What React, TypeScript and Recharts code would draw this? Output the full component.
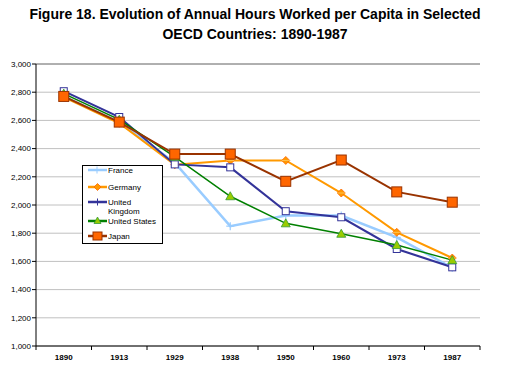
import React from "react";
import { LineChart, Line, XAxis, YAxis, CartesianGrid, ReferenceLine } from "recharts";

const years = ["1890", "1913", "1929", "1938", "1950", "1960", "1973", "1987"];
const france = [2770, 2588, 2300, 1850, 1925, 1925, 1770, 1555];
const germany = [2765, 2580, 2285, 2316, 2316, 2085, 1806, 1624];
const uk = [2807, 2624, 2288, 2267, 1956, 1913, 1688, 1558];
const us = [2790, 2605, 2342, 2062, 1870, 1796, 1716, 1609];
const japan = [2770, 2588, 2361, 2361, 2168, 2319, 2093, 2020];
const yTicks = [1000, 1200, 1400, 1600, 1800, 2000, 2200, 2400, 2600, 2800, 3000];

const data = years.map((year, i) => ({
  year,
  France: france[i],
  Germany: germany[i],
  UK: uk[i],
  US: us[i],
  Japan: japan[i],
}));

const FONT = "'Liberation Sans', Arial, sans-serif";

const PlusDot = (p: any) => {
  const { cx, cy, key } = p;
  if (cx == null || cy == null) return <g key={key} />;
  return (
    <g key={key} stroke="#99ccff" strokeWidth={1.2}>
      <line x1={cx - 4} y1={cy} x2={cx + 4} y2={cy} />
      <line x1={cx} y1={cy - 4} x2={cx} y2={cy + 4} />
    </g>
  );
};

const DiamondDot = (p: any) => {
  const { cx, cy, key } = p;
  if (cx == null || cy == null) return <g key={key} />;
  return (
    <g key={key}>
      <polygon
        points={`${cx},${cy - 4} ${cx + 4},${cy} ${cx},${cy + 4} ${cx - 4},${cy}`}
        fill="#ff9900"
        stroke="#ff6600"
        strokeWidth={0.8}
      />
      <line x1={cx - 4} y1={cy} x2={cx + 4} y2={cy} stroke="#ffcc66" strokeWidth={0.8} />
    </g>
  );
};

const HollowSquare = (p: any) => {
  const { cx, cy, key } = p;
  if (cx == null || cy == null) return <g key={key} />;
  return (
    <rect key={key} x={cx - 3.5} y={cy - 3.5} width={7} height={7} fill="#ffffff" stroke="#333399" strokeWidth={1} />
  );
};

const TriangleDot = (p: any) => {
  const { cx, cy, key } = p;
  if (cx == null || cy == null) return <g key={key} />;
  return (
    <polygon
      key={key}
      points={`${cx},${cy - 4.5} ${cx + 4.5},${cy + 3.5} ${cx - 4.5},${cy + 3.5}`}
      fill="#99cc00"
      stroke="#339933"
      strokeWidth={0.8}
    />
  );
};

const SquareDot = (p: any) => {
  const { cx, cy, key } = p;
  if (cx == null || cy == null) return <g key={key} />;
  return (
    <rect key={key} x={cx - 5} y={cy - 5} width={10} height={10} fill="#ff6600" stroke="#993300" strokeWidth={1} />
  );
};

const XTick = (p: any) => {
  const { x, y, payload, index } = p;
  const half = payload && payload.offset ? payload.offset : 27.75;
  return (
    <g>
      <line x1={x - half} y1={y} x2={x - half} y2={y + 4} stroke="#000" />
      {index === years.length - 1 && <line x1={x + half} y1={y} x2={x + half} y2={y + 4} stroke="#000" />}
      <text x={x} y={y + 14} textAnchor="middle" fontSize={8} fontWeight="bold" fontFamily={FONT} fill="#000">
        {payload.value}
      </text>
    </g>
  );
};

const LegendBox = () => (
  <svg width={82} height={80} style={{ display: "block" }}>
    <rect x={0.5} y={0.5} width={80} height={78} fill="#fff" stroke="#000" />
    <g fontFamily={FONT} fontSize={8} fill="#000">
      <line x1={6} y1={5} x2={25} y2={5} stroke="#99ccff" strokeWidth={2.5} />
      <line x1={15} y1={1.5} x2={15} y2={8.5} stroke="#99ccff" />
      <text x={26} y={8}>France</text>

      <line x1={6} y1={22} x2={25} y2={22} stroke="#ff9900" strokeWidth={2.5} />
      <polygon points="15.5,18.5 19,22 15.5,25.5 12,22" fill="#ff9900" stroke="#ff6600" strokeWidth={0.8} />
      <text x={26} y={25}>Germany</text>

      <line x1={6} y1={37} x2={25} y2={37} stroke="#333399" strokeWidth={2.5} />
      <line x1={15.5} y1={33.5} x2={15.5} y2={40.5} stroke="#333399" />
      <text x={26} y={40}>United</text>
      <text x={26} y={49}>Kingdom</text>

      <line x1={6} y1={56} x2={25} y2={56} stroke="#008000" strokeWidth={2.5} />
      <polygon points="15.5,52 19,58.5 12,58.5" fill="#99cc00" stroke="#339933" strokeWidth={0.8} />
      <text x={26} y={58.5}>United States</text>

      <line x1={6} y1={71} x2={25} y2={71} stroke="#993300" strokeWidth={2.5} />
      <rect x={11} y={67} width={9} height={8} fill="#ff6600" stroke="#993300" />
      <text x={26} y={74}>Japan</text>
    </g>
  </svg>
);

export default function App() {
  return (
    <div style={{ position: "absolute", left: 0, top: 0, width: 510, height: 374, background: "#fff" }}>
      <div
        style={{
          position: "absolute",
          left: 0,
          top: 4,
          width: 510,
          textAlign: "center",
          fontFamily: FONT,
          fontWeight: "bold",
          fontSize: 14,
          lineHeight: "20px",
          color: "#000",
        }}
      >
        Figure 18. Evolution of Annual Hours Worked per Capita in Selected
        <br />
        OECD Countries: 1890-1987
      </div>
      <div style={{ position: "absolute", left: 0, top: 0 }}>
        <LineChart width={510} height={374} data={data} margin={{ top: 64, right: 30, bottom: 8, left: 0 }}>
          <CartesianGrid vertical={false} stroke="#c0c0c0" />
          <XAxis
            dataKey="year"
            scale="band"
            stroke="#000"
            tickLine={false}
            tickSize={0}
            tickMargin={0}
            height={20}
            tick={<XTick />}
            interval={0}
          />
          <YAxis
            domain={[1000, 3000]}
            ticks={yTicks}
            width={36}
            stroke="#000"
            tickSize={4}
            tickMargin={1}
            tick={{ fontSize: 8, fill: "#000", fontFamily: FONT }}
            tickFormatter={(v: number) => v.toLocaleString("en-US")}
          />
          <YAxis yAxisId="r" orientation="right" domain={[1000, 3000]} width={0} tick={false} tickLine={false} stroke="#808080" />
          <ReferenceLine y={3000} stroke="#808080" />
          <Line dataKey="France" stroke="#99ccff" strokeWidth={2.5} dot={<PlusDot />} isAnimationActive={false} />
          <Line dataKey="Germany" stroke="#ff9900" strokeWidth={2} dot={<DiamondDot />} isAnimationActive={false} />
          <Line dataKey="UK" stroke="#333399" strokeWidth={2} dot={<HollowSquare />} isAnimationActive={false} />
          <Line dataKey="US" stroke="#008000" strokeWidth={1.5} dot={<TriangleDot />} isAnimationActive={false} />
          <Line dataKey="Japan" stroke="#993300" strokeWidth={2} dot={<SquareDot />} isAnimationActive={false} />
        </LineChart>
      </div>
      <div style={{ position: "absolute", left: 82, top: 165 }}>
        <LegendBox />
      </div>
    </div>
  );
}
